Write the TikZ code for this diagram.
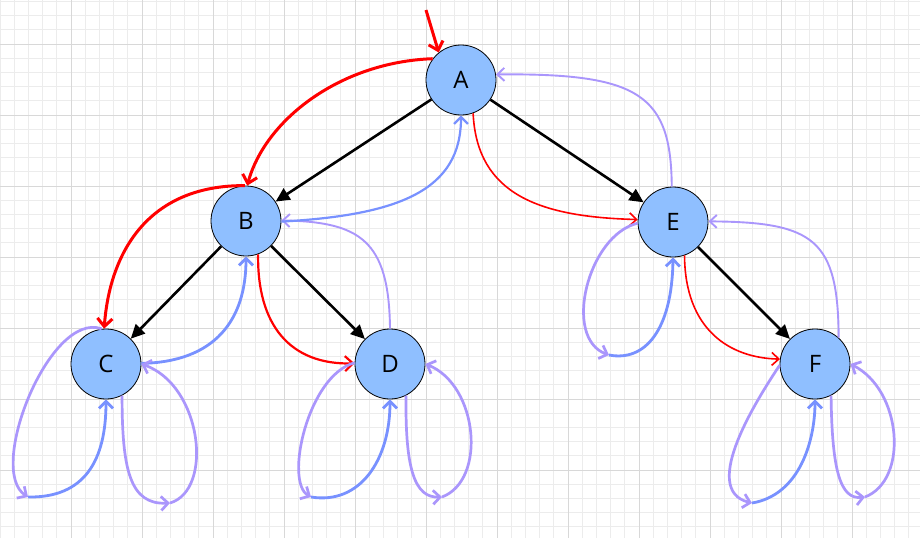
\documentclass[tikz,border=0pt]{standalone}
\usepackage{fontspec}
\setmainfont{Open Sans}
\usetikzlibrary{arrows.meta}
\definecolor{nodeblue}{RGB}{143,191,255}
\definecolor{lav}{RGB}{170,150,252}
\definecolor{peri}{RGB}{120,145,255}
\definecolor{gminor}{RGB}{236,236,236}
\definecolor{gmajor}{RGB}{216,216,216}
\tikzset{
  vtx/.style={circle, draw=black, line width=0.8pt, fill=nodeblue, minimum size=70pt, inner sep=0pt, font=\fontsize{24}{28}\selectfont},
  treeedge/.style={black, line width=2.6pt, -{Triangle[length=14pt,width=13pt]}},
  redthick/.style={red, line width=3pt, -{Straight Barb[length=8pt,width=15pt]}},
  redthin/.style={red, line width=1.6pt, -{Straight Barb[length=7pt,width=13pt]}},
  lavedge/.style={lav, line width=2.7pt, -{Straight Barb[length=7pt,width=14pt]}},
  lavthin/.style={lav, line width=1.9pt, -{Straight Barb[length=7pt,width=13pt]}},
  periedge/.style={peri, line width=2.8pt, -{Straight Barb[length=7pt,width=14pt]}},
  gminorline/.style={gminor, line width=1pt},
  gmajorline/.style={gmajor, line width=1pt}
}
\begin{document}
\begin{tikzpicture}[x=1pt,y=-1pt]
\useasboundingbox (0,0) rectangle (920,538);
\fill[white] (0,0) rectangle (920,538);
% grid
\foreach \i in {0,...,64} {\draw[gminorline] ({\i*14.2},0) -- ({\i*14.2},538);}
\foreach \j in {0,...,37} {\draw[gminorline] (0,{1.4+\j*14.2}) -- (920,{1.4+\j*14.2});}
\foreach \k in {1,...,12} {\draw[gmajorline] ({\k*71},0) -- ({\k*71},538);}
\foreach \k in {0,...,6} {\draw[gmajorline] (0,{44+\k*71}) -- (920,{44+\k*71});}

% nodes
\node[vtx] (a) at (461,80) {A};
\node[vtx] (b) at (246,221) {B};
\node[vtx] (c) at (106,364) {C};
\node[vtx] (d) at (390,364) {D};
\node[vtx] (e) at (673,222) {E};
\node[vtx] (f) at (815,364) {F};

% free ends
\coordinate (s) at (426,10);
\coordinate (c1) at (28,497);
\coordinate (c2) at (170,503);
\coordinate (d1) at (311,497);
\coordinate (d2) at (442,497);
\coordinate (e1) at (609,355);
\coordinate (f1) at (752,503);
\coordinate (f2) at (865,497);

% tree edges
\draw[treeedge] (a) -- (b);
\draw[treeedge] (a) -- (e);
\draw[treeedge] (b) -- (c);
\draw[treeedge] (b) -- (d);
\draw[treeedge] (e) -- (f);

% red traversal
\draw[redthick] (s) -- (a.129);
\draw[redthick] (a.143) .. controls (340,62) and (265,120) .. (b.88);
\draw[redthick] (b.92) .. controls (150,185) and (110,250) .. (c.93);
\draw[redthin] (a.-70) .. controls (477,195) and (540,217) .. (e.176);
\draw[redthick,line width=2.2pt] (b.-70) .. controls (257,325) and (290,365) .. (d.179);
\draw[redthin] (e.-71) .. controls (685,330) and (730,358) .. (f.172);

% back edges
\draw[lavthin] (e.92) .. controls (671,95) and (640,73) .. (a.9);
\draw[lavthin] (d.90) .. controls (389,240) and (360,222) .. (b.1);
\draw[lavthin] (f.48) .. controls (838,240) and (815,222) .. (e.1);
\draw[periedge,line width=2.2pt] (b.-1) .. controls (400,215) and (461,190) .. (a.-90);
\draw[periedge] (c.1) .. controls (215,362) and (246,320) .. (b.-90);

% loops C
\draw[lavedge] (c.97) .. controls (50,310) and (-14,470) .. (c1);
\draw[periedge] (c1) .. controls (85,498) and (106,460) .. (c.-90);
\draw[lavedge] (c.-63) .. controls (122,470) and (130,505) .. (c2);
\draw[lavedge] (c2) .. controls (214,490) and (202,385) .. (c.0);

% loops D
\draw[lavedge] (d.178) .. controls (308,375) and (284,482) .. (d1);
\draw[periedge] (d1) .. controls (360,505) and (390,460) .. (d.-90);
\draw[lavedge] (d.-63) .. controls (405,470) and (415,498) .. (d2);
\draw[lavedge] (d2) .. controls (487,480) and (478,385) .. (d.0);

% loops E
\draw[lavedge] (e.182) .. controls (588,235) and (562,338) .. (e1);
\draw[periedge] (e1) .. controls (645,362) and (672,330) .. (e.-90);

% loops F
\draw[lavedge] (f.182) .. controls (760,395) and (698,490) .. (f1);
\draw[periedge] (f1) .. controls (800,495) and (815,440) .. (f.-90);
\draw[lavedge] (f.-63) .. controls (832,470) and (840,500) .. (f2);
\draw[lavedge] (f2) .. controls (909,480) and (902,390) .. (f.0);
\end{tikzpicture}
\end{document}
